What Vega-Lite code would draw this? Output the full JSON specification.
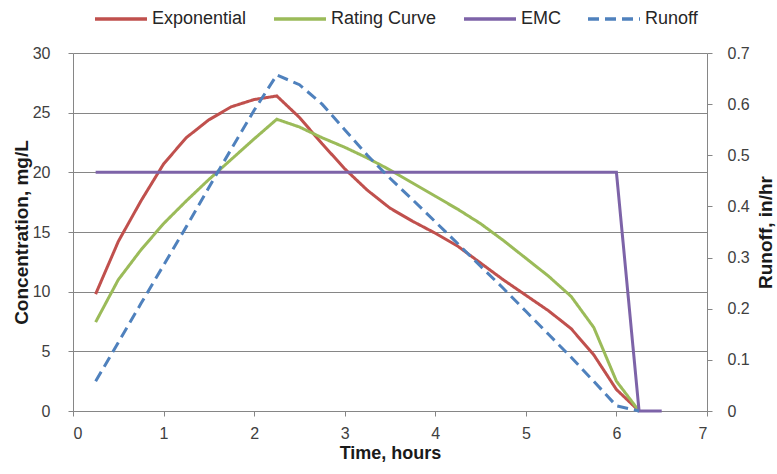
{
  "$schema": "https://vega.github.io/schema/vega-lite/v6.json",
  "width": 634,
  "height": 358,
  "autosize": {"type": "none"},
  "padding": {"left": 73, "top": 53, "right": 70, "bottom": 63},
  "background": "white",
  "config": {
    "view": {"stroke": null},
    "font": "Liberation Sans, Arial, sans-serif",
    "axis": {
      "domainColor": "#868686",
      "tickColor": "#868686",
      "gridColor": "#868686",
      "labelColor": "#404040",
      "labelFontSize": 16,
      "labelFont": "Liberation Sans, Arial, sans-serif",
      "titleFont": "Liberation Sans, Arial, sans-serif",
      "titleFontSize": 19,
      "titleColor": "#1a1a1a",
      "titleFontWeight": "bold",
      "tickSize": 5
    },
    "legend": {
      "orient": "none",
      "legendX": 20,
      "legendY": -62,
      "direction": "horizontal",
      "symbolType": "stroke",
      "symbolSize": 2704,
      "symbolStrokeWidth": 3.5,
      "labelFontSize": 18,
      "labelFont": "Liberation Sans, Arial, sans-serif",
      "labelColor": "#262626",
      "columnPadding": 20,
      "labelOffset": 3,
      "padding": 0
    }
  },
  "data": {
    "values": [
      {"t": 0.25, "series": "Exponential", "value": 9.8},
      {"t": 0.5, "series": "Exponential", "value": 14.2},
      {"t": 0.75, "series": "Exponential", "value": 17.6},
      {"t": 1, "series": "Exponential", "value": 20.7},
      {"t": 1.25, "series": "Exponential", "value": 22.9},
      {"t": 1.5, "series": "Exponential", "value": 24.4},
      {"t": 1.75, "series": "Exponential", "value": 25.5},
      {"t": 2, "series": "Exponential", "value": 26.1},
      {"t": 2.25, "series": "Exponential", "value": 26.4},
      {"t": 2.5, "series": "Exponential", "value": 24.6},
      {"t": 2.75, "series": "Exponential", "value": 22.4},
      {"t": 3, "series": "Exponential", "value": 20.3},
      {"t": 3.25, "series": "Exponential", "value": 18.5},
      {"t": 3.5, "series": "Exponential", "value": 17.0},
      {"t": 3.75, "series": "Exponential", "value": 15.9},
      {"t": 4, "series": "Exponential", "value": 14.9},
      {"t": 4.25, "series": "Exponential", "value": 13.8},
      {"t": 4.5, "series": "Exponential", "value": 12.4},
      {"t": 4.75, "series": "Exponential", "value": 11.0},
      {"t": 5, "series": "Exponential", "value": 9.7},
      {"t": 5.25, "series": "Exponential", "value": 8.4},
      {"t": 5.5, "series": "Exponential", "value": 6.9},
      {"t": 5.75, "series": "Exponential", "value": 4.7},
      {"t": 6, "series": "Exponential", "value": 1.8},
      {"t": 6.25, "series": "Exponential", "value": 0},
      {"t": 0.25, "series": "Rating Curve", "value": 7.45},
      {"t": 0.5, "series": "Rating Curve", "value": 11.0},
      {"t": 0.75, "series": "Rating Curve", "value": 13.5},
      {"t": 1, "series": "Rating Curve", "value": 15.7},
      {"t": 1.25, "series": "Rating Curve", "value": 17.6},
      {"t": 1.5, "series": "Rating Curve", "value": 19.4},
      {"t": 1.75, "series": "Rating Curve", "value": 21.1},
      {"t": 2, "series": "Rating Curve", "value": 22.8},
      {"t": 2.25, "series": "Rating Curve", "value": 24.45},
      {"t": 2.5, "series": "Rating Curve", "value": 23.8},
      {"t": 2.75, "series": "Rating Curve", "value": 22.9},
      {"t": 3, "series": "Rating Curve", "value": 22.1},
      {"t": 3.25, "series": "Rating Curve", "value": 21.2},
      {"t": 3.5, "series": "Rating Curve", "value": 20.2},
      {"t": 3.75, "series": "Rating Curve", "value": 19.1},
      {"t": 4, "series": "Rating Curve", "value": 18.0},
      {"t": 4.25, "series": "Rating Curve", "value": 16.9},
      {"t": 4.5, "series": "Rating Curve", "value": 15.7},
      {"t": 4.75, "series": "Rating Curve", "value": 14.3},
      {"t": 5, "series": "Rating Curve", "value": 12.8},
      {"t": 5.25, "series": "Rating Curve", "value": 11.3},
      {"t": 5.5, "series": "Rating Curve", "value": 9.6},
      {"t": 5.75, "series": "Rating Curve", "value": 7.0},
      {"t": 6, "series": "Rating Curve", "value": 2.5},
      {"t": 6.25, "series": "Rating Curve", "value": 0},
      {"t": 0.25, "series": "EMC", "value": 20},
      {"t": 0.5, "series": "EMC", "value": 20},
      {"t": 0.75, "series": "EMC", "value": 20},
      {"t": 1, "series": "EMC", "value": 20},
      {"t": 1.25, "series": "EMC", "value": 20},
      {"t": 1.5, "series": "EMC", "value": 20},
      {"t": 1.75, "series": "EMC", "value": 20},
      {"t": 2, "series": "EMC", "value": 20},
      {"t": 2.25, "series": "EMC", "value": 20},
      {"t": 2.5, "series": "EMC", "value": 20},
      {"t": 2.75, "series": "EMC", "value": 20},
      {"t": 3, "series": "EMC", "value": 20},
      {"t": 3.25, "series": "EMC", "value": 20},
      {"t": 3.5, "series": "EMC", "value": 20},
      {"t": 3.75, "series": "EMC", "value": 20},
      {"t": 4, "series": "EMC", "value": 20},
      {"t": 4.25, "series": "EMC", "value": 20},
      {"t": 4.5, "series": "EMC", "value": 20},
      {"t": 4.75, "series": "EMC", "value": 20},
      {"t": 5, "series": "EMC", "value": 20},
      {"t": 5.25, "series": "EMC", "value": 20},
      {"t": 5.5, "series": "EMC", "value": 20},
      {"t": 5.75, "series": "EMC", "value": 20},
      {"t": 6, "series": "EMC", "value": 20},
      {"t": 6.25, "series": "EMC", "value": 0},
      {"t": 6.5, "series": "EMC", "value": 0},
      {"t": 0.25, "series": "Runoff", "value": 0.058},
      {"t": 0.5, "series": "Runoff", "value": 0.134},
      {"t": 0.75, "series": "Runoff", "value": 0.21},
      {"t": 1, "series": "Runoff", "value": 0.285},
      {"t": 1.25, "series": "Runoff", "value": 0.36},
      {"t": 1.5, "series": "Runoff", "value": 0.437},
      {"t": 1.75, "series": "Runoff", "value": 0.513},
      {"t": 2, "series": "Runoff", "value": 0.588},
      {"t": 2.25, "series": "Runoff", "value": 0.657},
      {"t": 2.5, "series": "Runoff", "value": 0.638},
      {"t": 2.75, "series": "Runoff", "value": 0.6},
      {"t": 3, "series": "Runoff", "value": 0.55},
      {"t": 3.25, "series": "Runoff", "value": 0.5},
      {"t": 3.5, "series": "Runoff", "value": 0.455},
      {"t": 3.75, "series": "Runoff", "value": 0.413},
      {"t": 4, "series": "Runoff", "value": 0.37},
      {"t": 4.25, "series": "Runoff", "value": 0.327},
      {"t": 4.5, "series": "Runoff", "value": 0.283},
      {"t": 4.75, "series": "Runoff", "value": 0.24},
      {"t": 5, "series": "Runoff", "value": 0.195},
      {"t": 5.25, "series": "Runoff", "value": 0.15},
      {"t": 5.5, "series": "Runoff", "value": 0.105},
      {"t": 5.75, "series": "Runoff", "value": 0.058},
      {"t": 6, "series": "Runoff", "value": 0.01},
      {"t": 6.25, "series": "Runoff", "value": 0}
    ]
  },
  "encoding": {
    "x": {
      "field": "t",
      "type": "quantitative",
      "scale": {"domain": [0, 7], "nice": false},
      "axis": {
        "values": [0, 1, 2, 3, 4, 5, 6, 7],
        "grid": false,
        "title": "Time, hours",
        "titleFontSize": 18,
        "labelPadding": 9,
        "titlePadding": 3
      }
    }
  },
  "layer": [
    {
      "transform": [{"filter": "datum.series !== 'Runoff'"}],
      "mark": {"type": "line", "strokeWidth": 3},
      "encoding": {
        "y": {
          "field": "value",
          "type": "quantitative",
          "scale": {"domain": [0, 30], "nice": false},
          "axis": {
            "values": [0, 5, 10, 15, 20, 25, 30],
            "grid": true,
            "title": "Concentration,  mg/L",
            "labelPadding": 18,
            "titlePadding": 1
          }
        },
        "color": {
          "field": "series",
          "type": "nominal",
          "title": null,
          "scale": {
            "domain": ["Exponential", "Rating Curve", "EMC", "Runoff"],
            "range": ["#C0504D", "#9BBB59", "#7D63A8", "#4F81BD"]
          }
        },
        "strokeDash": {
          "field": "series",
          "type": "nominal",
          "title": null,
          "scale": {
            "domain": ["Exponential", "Rating Curve", "EMC", "Runoff"],
            "range": [[1, 0], [1, 0], [1, 0], [11, 6]]
          }
        }
      }
    },
    {
      "transform": [{"filter": "datum.series === 'Runoff'"}],
      "mark": {"type": "line", "strokeWidth": 3},
      "encoding": {
        "y": {
          "field": "value",
          "type": "quantitative",
          "scale": {"domain": [0, 0.7], "nice": false},
          "axis": {
            "orient": "right",
            "values": [0, 0.1, 0.2, 0.3, 0.4, 0.5, 0.6, 0.7],
            "format": "~g",
            "grid": false,
            "title": "Runoff, in/hr",
            "titleAngle": 270,
            "titleBaseline": "top",
            "labelPadding": 15,
            "titlePadding": 7
          }
        },
        "color": {
          "field": "series",
          "type": "nominal",
          "title": null
        },
        "strokeDash": {
          "field": "series",
          "type": "nominal",
          "title": null
        }
      }
    }
  ],
  "resolve": {"scale": {"y": "independent"}}
}
